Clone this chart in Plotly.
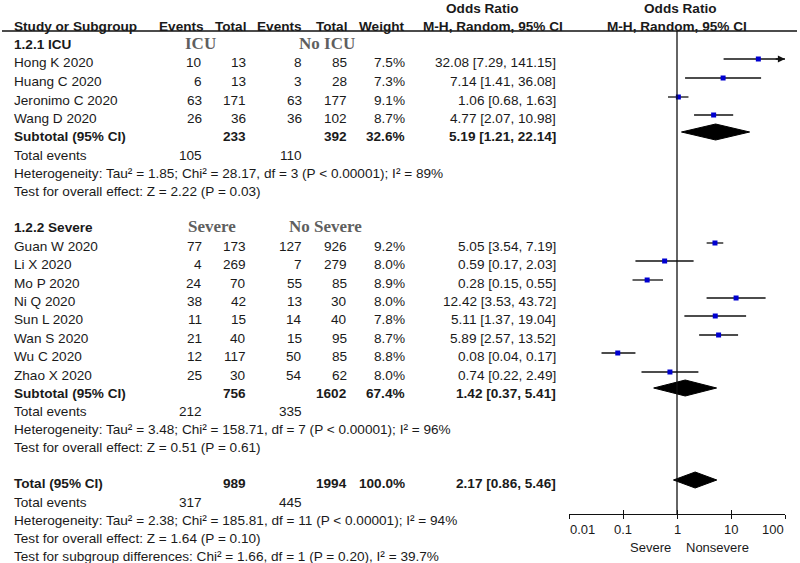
import math
import plotly.graph_objects as go

# ---------------- data ----------------
icu_studies = ["Hong K 2020", "Huang C 2020", "Jeronimo C 2020", "Wang D 2020"]
icu_ev1 = [10, 6, 63, 26]
icu_tot1 = [13, 13, 171, 36]
icu_ev2 = [8, 3, 63, 36]
icu_tot2 = [85, 28, 177, 102]
icu_weight = ["7.5%", "7.3%", "9.1%", "8.7%"]
icu_or = [32.08, 7.14, 1.06, 4.77]
icu_lo = [7.29, 1.41, 0.68, 2.07]
icu_hi = [141.15, 36.08, 1.63, 10.98]

sev_studies = ["Guan W 2020", "Li X 2020", "Mo P 2020", "Ni Q 2020",
               "Sun L 2020", "Wan S 2020", "Wu C 2020", "Zhao X 2020"]
sev_ev1 = [77, 4, 24, 38, 11, 21, 12, 25]
sev_tot1 = [173, 269, 70, 42, 15, 40, 117, 30]
sev_ev2 = [127, 7, 55, 13, 14, 15, 50, 54]
sev_tot2 = [926, 279, 85, 30, 40, 95, 85, 62]
sev_weight = ["9.2%", "8.0%", "8.9%", "8.0%", "7.8%", "8.7%", "8.8%", "8.0%"]
sev_or = [5.05, 0.59, 0.28, 12.42, 5.11, 5.89, 0.08, 0.74]
sev_lo = [3.54, 0.17, 0.15, 3.53, 1.37, 2.57, 0.04, 0.22]
sev_hi = [7.19, 2.03, 0.55, 43.72, 19.04, 13.52, 0.17, 2.49]

# pooled: [tot1, tot2, weight, or, lo, hi, events1, events2]
icu_pooled = [233, 392, "32.6%", 5.19, 1.21, 22.14, 105, 110]
sev_pooled = [756, 1602, "67.4%", 1.42, 0.37, 5.41, 212, 335]
all_pooled = [989, 1994, "100.0%", 2.17, 0.86, 5.46, 317, 445]

icu_het = "Heterogeneity: Tau² = 1.85; Chi² = 28.17, df = 3 (P < 0.00001); I² = 89%"
icu_test = "Test for overall effect: Z = 2.22 (P = 0.03)"
sev_het = "Heterogeneity: Tau² = 3.48; Chi² = 158.71, df = 7 (P < 0.00001); I² = 96%"
sev_test = "Test for overall effect: Z = 0.51 (P = 0.61)"
all_het = "Heterogeneity: Tau² = 2.38; Chi² = 185.81, df = 11 (P < 0.00001); I² = 94%"
all_test = "Test for overall effect: Z = 1.64 (P = 0.10)"
sub_test = "Test for subgroup differences: Chi² = 1.66, df = 1 (P = 0.20), I² = 39.7%"

tick_vals = [0.01, 0.1, 1, 10, 100]
tick_text = ["0.01", "0.1", "1", "10", "100"]
axis_left_label = "Severe"
axis_right_label = "Nonsevere"

# ---------------- layout (pixel rows) ----------------
W, H = 800, 563
FONT = "Liberation Sans, Arial, sans-serif"
SERIF = "Liberation Serif, Times New Roman, serif"
FS = 13.6
TXT = "#1a1a1a"

y_icu_head = 44
y_icu_rows = [62, 81, 100, 118]
y_icu_sub, y_icu_te, y_icu_het, y_icu_test = 136, 155, 173, 191
y_sev_head = 227
y_sev_rows = [246, 264, 283, 301, 319, 338, 356, 375]
y_sev_sub, y_sev_te, y_sev_het, y_sev_test = 393, 411, 429, 447
y_tot, y_tot_te, y_tot_het, y_tot_test, y_sub_test = 483, 502, 520, 538, 556
GOFF = -3  # graphics offset relative to text centre

X_LABEL = 13
X_EV1, X_TOT1, X_EV2, X_TOT2, X_W, X_OR = 203, 247, 303, 348, 406, 557

fig = go.Figure()
ann = []


def txt(x, y, s, anchor="left", bold=False, size=FS, font=FONT, color=TXT):
    if bold:
        s = "<b>" + s + "</b>"
    ann.append(dict(x=x / W, y=y, xref="paper", yref="y", text=s, showarrow=False,
                    xanchor=anchor, yanchor="middle", borderpad=0,
                    font=dict(family=font, size=size, color=color)))


def or_text(o, lo, hi):
    return f"{o:.2f} [{lo:.2f}, {hi:.2f}]"


# headers
txt(X_LABEL, 26, "Study or Subgroup", bold=True)
txt(X_EV1 + 2, 26, "Events", "right", bold=True)
txt(X_TOT1, 26, "Total", "right", bold=True)
txt(X_EV2, 26, "Events", "right", bold=True)
txt(X_TOT2, 26, "Total", "right", bold=True)
txt(X_W, 26, "Weight", "right", bold=True)
txt(482, 8, "Odds Ratio", "center", bold=True)
txt(493, 26, "M-H, Random, 95% CI", "center", bold=True)
txt(680, 8, "Odds Ratio", "center", bold=True)
txt(677, 26, "M-H, Random, 95% CI", "center", bold=True)


def group(head, g1, g2, g1x, g2x, yhead, studies, ev1, tot1, ev2, tot2, wt, ors, los, his, yrows,
          pooled, ysub, yte, het, yhet, test, ytest):
    txt(X_LABEL, yhead, head, bold=True)
    txt(g1x, yhead - 1, g1, "center", bold=True, size=17, font=SERIF, color="#5f5f5f")
    txt(g2x, yhead - 1, g2, "center", bold=True, size=17, font=SERIF, color="#5f5f5f")
    for i, s in enumerate(studies):
        y = yrows[i]
        txt(X_LABEL, y, s)
        txt(X_EV1, y, str(ev1[i]), "right")
        txt(X_TOT1, y, str(tot1[i]), "right")
        txt(X_EV2, y, str(ev2[i]), "right")
        txt(X_TOT2, y, str(tot2[i]), "right")
        txt(X_W, y, wt[i], "right")
        txt(X_OR, y, or_text(ors[i], los[i], his[i]), "right")
    txt(X_LABEL, ysub, "Subtotal (95% CI)", bold=True)
    txt(X_TOT1, ysub, str(pooled[0]), "right", bold=True)
    txt(X_TOT2, ysub, str(pooled[1]), "right", bold=True)
    txt(X_W, ysub, pooled[2], "right", bold=True)
    txt(X_OR, ysub, or_text(pooled[3], pooled[4], pooled[5]), "right", bold=True)
    txt(X_LABEL, yte, "Total events")
    txt(X_EV1, yte, str(pooled[6]), "right")
    txt(X_EV2, yte, str(pooled[7]), "right")
    txt(X_LABEL, yhet, het)
    txt(X_LABEL, ytest, test)


group("1.2.1 ICU", "ICU", "No ICU", 201, 327, y_icu_head, icu_studies, icu_ev1, icu_tot1, icu_ev2,
      icu_tot2, icu_weight, icu_or, icu_lo, icu_hi, y_icu_rows, icu_pooled, y_icu_sub, y_icu_te,
      icu_het, y_icu_het, icu_test, y_icu_test)
group("1.2.2 Severe", "Severe", "No Severe", 212, 325, y_sev_head, sev_studies, sev_ev1, sev_tot1,
      sev_ev2, sev_tot2, sev_weight, sev_or, sev_lo, sev_hi, y_sev_rows, sev_pooled, y_sev_sub,
      y_sev_te, sev_het, y_sev_het, sev_test, y_sev_test)

# overall
txt(X_LABEL, y_tot, "Total (95% CI)", bold=True)
txt(X_TOT1, y_tot, str(all_pooled[0]), "right", bold=True)
txt(X_TOT2, y_tot, str(all_pooled[1]), "right", bold=True)
txt(X_W, y_tot, all_pooled[2], "right", bold=True)
txt(X_OR, y_tot, or_text(all_pooled[3], all_pooled[4], all_pooled[5]), "right", bold=True)
txt(X_LABEL, y_tot_te, "Total events")
txt(X_EV1, y_tot_te, str(all_pooled[6]), "right")
txt(X_EV2, y_tot_te, str(all_pooled[7]), "right")
txt(X_LABEL, y_tot_het, all_het)
txt(X_LABEL, y_tot_test, all_test)
txt(X_LABEL, y_sub_test, sub_test)

# axis direction labels below
txt(650, 547, axis_left_label, "center", size=13)
txt(717, 547, axis_right_label, "center", size=13)

# tick labels (end labels pulled inward as in RevMan)
for i, (v, t) in enumerate(zip(tick_vals, tick_text)):
    anchor = "left" if i == 0 else ("right" if i == len(tick_vals) - 1 else "center")
    ann.append(dict(x=math.log10(v), y=529, xref="x", yref="y", text=t, showarrow=False,
                    xanchor=anchor, yanchor="middle", borderpad=0,
                    font=dict(family=FONT, size=13, color=TXT)))

# ---------------- forest graphics ----------------
XMAX = tick_vals[-1]
all_or = icu_or + sev_or
all_lo = icu_lo + sev_lo
all_hi = icu_hi + sev_hi
all_y = [y + GOFF for y in y_icu_rows + y_sev_rows]

lx, ly = [], []
for o, lo, hi, y in zip(all_or, all_lo, all_hi, all_y):
    lx += [lo, min(hi, XMAX), None]
    ly += [y, y, None]
    if hi > XMAX:
        ann.append(dict(x=math.log10(XMAX), y=y, xref="x", yref="y", ax=math.log10(XMAX) - 0.2,
                        ay=y, axref="x", ayref="y", text="", showarrow=True, arrowhead=2,
                        arrowsize=1.1, arrowwidth=1.3, arrowcolor="#111111", standoff=0))

fig.add_trace(go.Scatter(x=lx, y=ly, mode="lines", line=dict(color="#111111", width=1.3),
                         hoverinfo="skip", showlegend=False))
fig.add_trace(go.Scatter(x=all_or, y=all_y, mode="markers",
                         marker=dict(symbol="square", size=5, color="#0000d0"),
                         showlegend=False))

DH = 8
for pooled, y in [(icu_pooled, y_icu_sub + GOFF - 1), (sev_pooled, y_sev_sub + GOFF - 2),
                  (all_pooled, y_tot + GOFF)]:
    o, lo, hi = pooled[3], pooled[4], pooled[5]
    fig.add_trace(go.Scatter(x=[lo, o, hi, o, lo], y=[y, y - DH, y, y + DH, y], mode="lines",
                             fill="toself", fillcolor="black", line=dict(color="black", width=1),
                             hoverinfo="skip", showlegend=False))

AXIS_Y = 514
shapes = [
    dict(type="line", xref="x", yref="y", x0=1, x1=1, y0=31, y1=AXIS_Y,
         line=dict(color="#111111", width=1.3)),
    dict(type="line", xref="paper", yref="y", x0=2 / W, x1=797 / W, y0=31, y1=31,
         line=dict(color="#111111", width=1.3)),
]

pos = 1 - AXIS_Y / H
fig.update_layout(
    width=W, height=H, margin=dict(l=0, r=0, t=0, b=0, autoexpand=False),
    paper_bgcolor="white", plot_bgcolor="white",
    annotations=ann, shapes=shapes, showlegend=False,
    xaxis=dict(type="log", range=[-2, 2], domain=[569 / W, 785 / W], anchor="free", position=pos,
               showline=True, linecolor="#111111", linewidth=1.3, ticks="outside", ticklen=4,
               tickwidth=1.3, tickcolor="#111111", tickvals=tick_vals, showticklabels=False,
               showgrid=False, zeroline=False, fixedrange=True),
    xaxis2=dict(type="log", range=[-2, 2], domain=[569 / W, 785 / W], anchor="free", position=pos,
                overlaying="x", ticks="inside", ticklen=4, tickwidth=1.3, tickcolor="#111111",
                tickvals=tick_vals, showticklabels=False, showline=False, showgrid=False,
                zeroline=False),
    yaxis=dict(range=[H, 0], domain=[0, 1], visible=False, fixedrange=True),
)
fig.add_trace(go.Scatter(x=[1], y=[AXIS_Y], xaxis="x2", mode="markers", marker=dict(opacity=0),
                         hoverinfo="skip", showlegend=False))

fig.write_html("out.html", config={"displayModeBar": False},
               post_script="document.body.style.margin='0px';")
